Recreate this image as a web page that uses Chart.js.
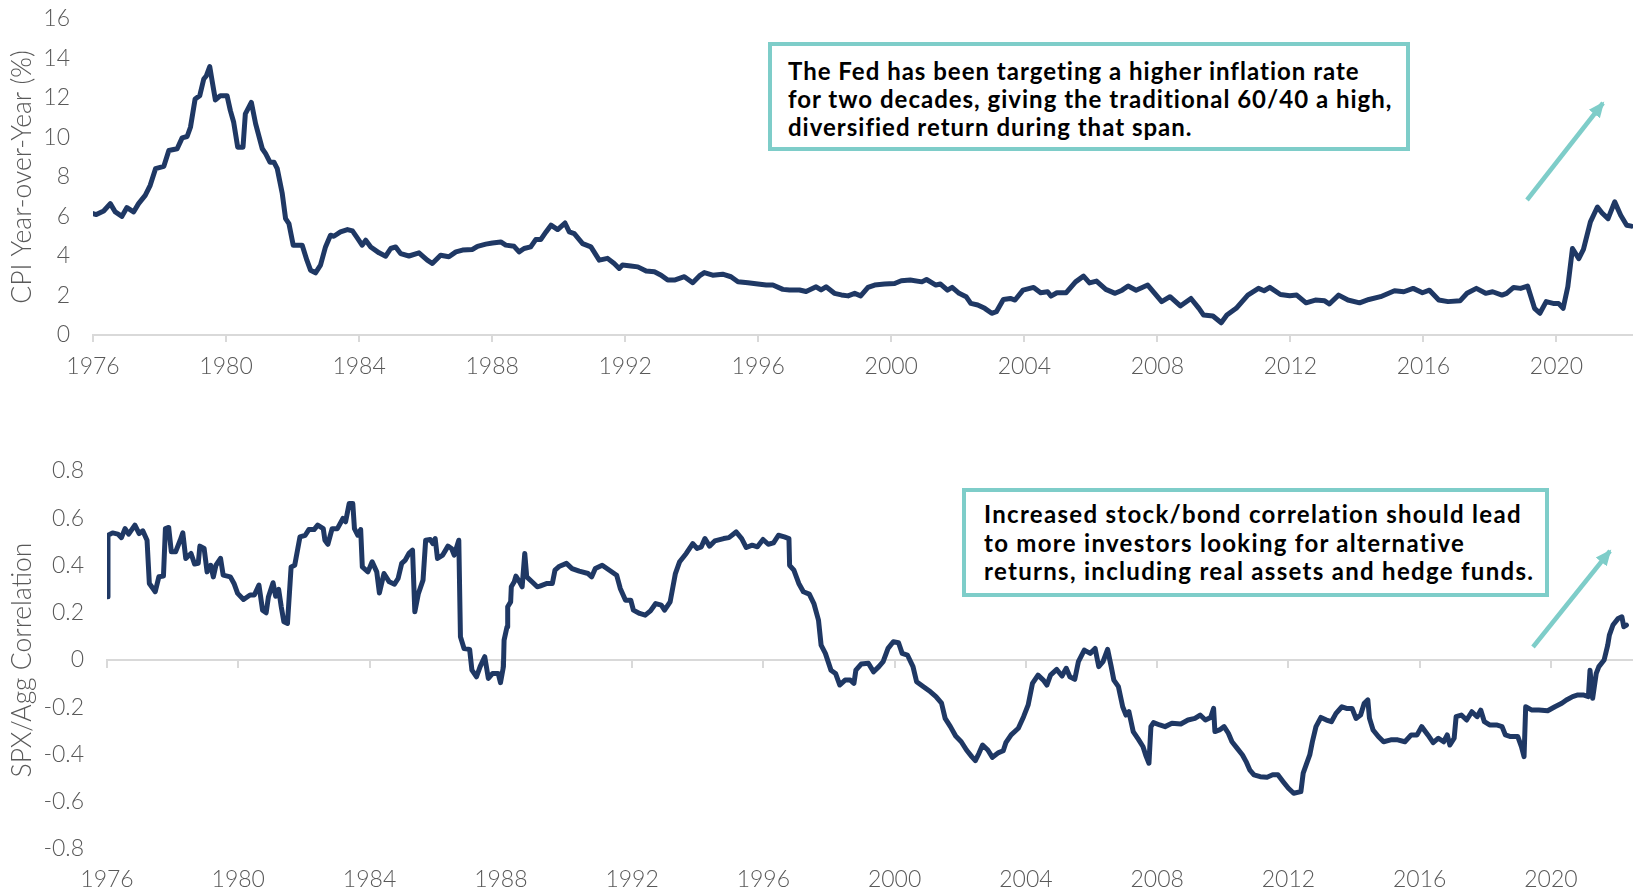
<!DOCTYPE html>
<html>
<head>
<meta charset="utf-8">
<script src="https://cdn.jsdelivr.net/npm/chart.js@4.4.1/dist/chart.umd.min.js"></script>
<style>
  body { margin: 0; background: #fff; }
  .wrap { position: absolute; left: 0; width: 1633px; }
  #topWrap { top: 0; height: 400px; }
  #botWrap { top: 420px; height: 471px; }
  .note {
    position: absolute; box-sizing: border-box; background: #fff;
    border: 4px solid #7ecdc9; color: #000;
    font-family: Lato, "Open Sans", sans-serif; font-weight: 700;
    white-space: nowrap;
  }
  #note1 { left: 768px; top: 42px; width: 642px; height: 109px; font-size: 24px; letter-spacing: 1px; line-height: 28px; padding: 11px 0 0 16px; }
  #note2 { left: 962px; top: 488px; width: 587px; height: 109px; font-size: 24px; letter-spacing: 1.3px; line-height: 28.6px; padding: 8px 0 0 18px; }
  svg { position: absolute; left: 0; top: 0; pointer-events: none; }
</style>
</head>
<body>
<div class="wrap" id="topWrap"><canvas id="cpiChart"></canvas></div>
<div class="wrap" id="botWrap"><canvas id="corrChart"></canvas></div>

<div class="note" id="note1">The Fed has been targeting a higher inflation rate<br>for two decades, giving the traditional 60/40 a high,<br>diversified return during that span.</div>
<div class="note" id="note2">Increased stock/bond correlation should lead<br>to more investors looking for alternative<br>returns, including real assets and hedge funds.</div>

<svg width="1633" height="891">
  <defs>
    <marker id="head" markerUnits="userSpaceOnUse" markerWidth="18" markerHeight="18" refX="14" refY="9" orient="auto">
      <path d="M0,2 L16,9 L0,16 Z" fill="#7ecdc9"/>
    </marker>
  </defs>
  <line x1="1527" y1="200" x2="1603" y2="103" stroke="#7ecdc9" stroke-width="4.5" marker-end="url(#head)"/>
  <line x1="1533" y1="647" x2="1610" y2="551" stroke="#7ecdc9" stroke-width="4.5" marker-end="url(#head)"/>
</svg>

<script>
// CPI year-over-year (%)
const cpiYears = [
  1976.0, 1976.1, 1976.32, 1976.52, 1976.67, 1976.87, 1977.02, 1977.22, 1977.37, 1977.57, 1977.72, 1977.88,
  1978.13, 1978.28, 1978.53, 1978.68, 1978.83, 1978.93, 1979.07, 1979.21, 1979.33, 1979.41, 1979.51, 1979.58,
  1979.68, 1979.83, 1980.03, 1980.13, 1980.23, 1980.35, 1980.51, 1980.58, 1980.76, 1980.89, 1981.09, 1981.19,
  1981.32, 1981.44, 1981.54, 1981.69, 1981.79, 1981.89, 1982.02, 1982.29, 1982.43, 1982.54, 1982.69, 1982.84,
  1982.99, 1983.14, 1983.24, 1983.44, 1983.65, 1983.8, 1983.94, 1984.09, 1984.2, 1984.35, 1984.6, 1984.8,
  1984.95, 1985.1, 1985.25, 1985.5, 1985.8, 1986.05, 1986.2, 1986.45, 1986.7, 1986.91, 1987.11, 1987.41,
  1987.56, 1987.81, 1988.01, 1988.26, 1988.41, 1988.66, 1988.81, 1988.96, 1989.16, 1989.31, 1989.46, 1989.62,
  1989.77, 1989.97, 1990.19, 1990.32, 1990.47, 1990.72, 1990.97, 1991.22, 1991.47, 1991.67, 1991.82, 1991.92,
  1992.17, 1992.38, 1992.63, 1992.88, 1993.08, 1993.28, 1993.48, 1993.78, 1994.03, 1994.23, 1994.38, 1994.63,
  1994.93, 1995.18, 1995.39, 1995.69, 1995.99, 1996.24, 1996.44, 1996.74, 1996.94, 1997.24, 1997.44, 1997.74,
  1997.89, 1998.04, 1998.29, 1998.5, 1998.7, 1998.9, 1999.08, 1999.3, 1999.5, 1999.8, 2000.1, 2000.3,
  2000.57, 2000.92, 2001.06, 2001.34, 2001.48, 2001.69, 2001.83, 2002.04, 2002.25, 2002.39, 2002.6, 2002.81,
  2003.02, 2003.16, 2003.37, 2003.58, 2003.72, 2003.96, 2004.28, 2004.49, 2004.7, 2004.8, 2004.98, 2005.26,
  2005.54, 2005.78, 2005.96, 2006.17, 2006.45, 2006.73, 2006.94, 2007.12, 2007.36, 2007.71, 2007.92, 2008.13,
  2008.38, 2008.69, 2009.01, 2009.25, 2009.39, 2009.67, 2009.92, 2010.09, 2010.37, 2010.72, 2011.04, 2011.21,
  2011.38, 2011.7, 2011.98, 2012.19, 2012.47, 2012.75, 2013.03, 2013.17, 2013.45, 2013.73, 2014.08, 2014.36,
  2014.71, 2015.13, 2015.41, 2015.69, 2015.97, 2016.18, 2016.46, 2016.74, 2017.1, 2017.31, 2017.59, 2017.87,
  2018.08, 2018.36, 2018.5, 2018.71, 2018.92, 2019.13, 2019.34, 2019.5, 2019.69, 2019.9, 2020.06, 2020.2,
  2020.34, 2020.48, 2020.67, 2020.81, 2021.02, 2021.23, 2021.37, 2021.55, 2021.75, 2021.93, 2022.11, 2022.25
];
const cpiValues = [
  6.15, 6.1, 6.28, 6.65, 6.23, 6.01, 6.45, 6.23, 6.65, 7.07, 7.58, 8.42,
  8.54, 9.34, 9.43, 9.98, 10.05, 10.52, 11.95, 12.12, 12.96, 13.13, 13.59, 12.88,
  11.9, 12.12, 12.12, 11.36, 10.77, 9.51, 9.51, 11.2, 11.78, 10.69, 9.43, 9.18,
  8.75, 8.75, 8.42, 7.16, 5.89, 5.64, 4.55, 4.55, 3.79, 3.28, 3.15, 3.54,
  4.46, 5.05, 5.0, 5.22, 5.34, 5.27, 4.93, 4.55, 4.8, 4.46, 4.16, 3.99,
  4.38, 4.46, 4.12, 4.0, 4.16, 3.79, 3.62, 4.04, 3.96, 4.21, 4.3, 4.33,
  4.49, 4.6, 4.66, 4.71, 4.55, 4.49, 4.21, 4.38, 4.46, 4.83, 4.83, 5.22,
  5.56, 5.34, 5.67, 5.22, 5.13, 4.63, 4.46, 3.79, 3.88, 3.62, 3.37, 3.54,
  3.49, 3.45, 3.24, 3.2, 3.03, 2.78, 2.78, 2.95, 2.65, 2.99, 3.16, 3.03,
  3.08, 2.95, 2.7, 2.65, 2.58, 2.53, 2.53, 2.31, 2.28, 2.28, 2.2, 2.44,
  2.28, 2.44, 2.11, 2.03, 1.98, 2.11, 1.98, 2.41, 2.53, 2.58, 2.61, 2.75,
  2.78, 2.69, 2.81, 2.53, 2.58, 2.27, 2.41, 2.11, 1.94, 1.6, 1.52, 1.35,
  1.1, 1.18, 1.8, 1.85, 1.77, 2.27, 2.41, 2.14, 2.19, 1.97, 2.14, 2.14,
  2.69, 2.98, 2.64, 2.73, 2.31, 2.11, 2.27, 2.48, 2.27, 2.53, 2.11, 1.69,
  1.94, 1.47, 1.85, 1.35, 1.01, 0.96, 0.62, 1.01, 1.35, 2.02, 2.36, 2.24,
  2.41, 2.05, 1.99, 2.02, 1.63, 1.77, 1.73, 1.57, 2.02, 1.77, 1.63, 1.8,
  1.94, 2.24, 2.19, 2.36, 2.14, 2.27, 1.77, 1.69, 1.73, 2.11, 2.36, 2.11,
  2.19, 2.02, 2.11, 2.41, 2.36, 2.48, 1.35, 1.1, 1.69, 1.6, 1.6, 1.35,
  2.44, 4.38, 3.87, 4.33, 5.73, 6.48, 6.18, 5.89, 6.74, 6.06, 5.56, 5.51
];

// SPX / Agg correlation
const corrYears = [
  1976.0, 1976.03, 1976.17, 1976.33, 1976.44, 1976.55, 1976.66, 1976.85, 1976.98, 1977.09, 1977.22, 1977.29,
  1977.4, 1977.47, 1977.58, 1977.72, 1977.78, 1977.88, 1977.96, 1978.09, 1978.23, 1978.31, 1978.4, 1978.56,
  1978.67, 1978.78, 1978.83, 1978.96, 1979.05, 1979.16, 1979.24, 1979.32, 1979.46, 1979.54, 1979.76, 1979.87,
  1979.98, 1980.16, 1980.36, 1980.49, 1980.63, 1980.74, 1980.85, 1980.92, 1981.06, 1981.14, 1981.23, 1981.31,
  1981.39, 1981.5, 1981.61, 1981.72, 1981.88, 1982.04, 1982.15, 1982.31, 1982.42, 1982.59, 1982.64, 1982.73,
  1982.86, 1983.02, 1983.19, 1983.27, 1983.38, 1983.49, 1983.54, 1983.64, 1983.73, 1983.78, 1983.95, 1984.08,
  1984.22, 1984.3, 1984.44, 1984.6, 1984.76, 1984.87, 1984.98, 1985.09, 1985.2, 1985.31, 1985.38, 1985.49,
  1985.63, 1985.71, 1985.85, 1985.93, 1986.0, 1986.07, 1986.23, 1986.39, 1986.5, 1986.58, 1986.72, 1986.77,
  1986.88, 1987.05, 1987.12, 1987.26, 1987.37, 1987.51, 1987.62, 1987.75, 1987.92, 1987.99, 1988.08, 1988.1,
  1988.19, 1988.21, 1988.3, 1988.32, 1988.41, 1988.46, 1988.57, 1988.65, 1988.73, 1988.79, 1988.95, 1989.11,
  1989.19, 1989.41, 1989.57, 1989.65, 1989.79, 1990.0, 1990.17, 1990.39, 1990.66, 1990.77, 1990.88, 1991.09,
  1991.31, 1991.53, 1991.64, 1991.8, 1991.96, 1992.04, 1992.23, 1992.4, 1992.56, 1992.72, 1992.89, 1992.99,
  1993.16, 1993.32, 1993.45, 1993.65, 1993.85, 1993.98, 1994.11, 1994.22, 1994.36, 1994.52, 1994.79, 1994.95,
  1995.17, 1995.34, 1995.48, 1995.66, 1995.82, 1995.99, 1996.15, 1996.31, 1996.46, 1996.64, 1996.78, 1996.8,
  1996.93, 1997.08, 1997.22, 1997.4, 1997.54, 1997.68, 1997.76, 1997.89, 1998.06, 1998.2, 1998.33, 1998.49,
  1998.65, 1998.76, 1998.82, 1998.98, 1999.2, 1999.36, 1999.52, 1999.65, 1999.8, 1999.96, 2000.12, 2000.23,
  2000.39, 2000.56, 2000.67, 2000.88, 2001.05, 2001.26, 2001.43, 2001.54, 2001.7, 2001.86, 2002.03, 2002.19,
  2002.35, 2002.46, 2002.57, 2002.68, 2002.84, 2002.98, 2003.17, 2003.31, 2003.39, 2003.55, 2003.77, 2003.93,
  2004.07, 2004.2, 2004.37, 2004.53, 2004.64, 2004.75, 2004.94, 2005.1, 2005.23, 2005.34, 2005.49, 2005.6,
  2005.78, 2005.96, 2006.11, 2006.22, 2006.35, 2006.49, 2006.6, 2006.68, 2006.82, 2006.95, 2007.05, 2007.14,
  2007.27, 2007.43, 2007.57, 2007.65, 2007.75, 2007.81, 2007.89, 2008.08, 2008.24, 2008.45, 2008.72, 2008.94,
  2009.15, 2009.31, 2009.47, 2009.63, 2009.72, 2009.76, 2009.9, 2010.04, 2010.17, 2010.28, 2010.44, 2010.6,
  2010.71, 2010.82, 2010.95, 2011.14, 2011.35, 2011.52, 2011.68, 2011.84, 2012.0, 2012.16, 2012.38, 2012.45,
  2012.54, 2012.65, 2012.73, 2012.84, 2012.99, 2013.16, 2013.31, 2013.45, 2013.63, 2013.77, 2013.94, 2014.06,
  2014.2, 2014.31, 2014.42, 2014.47, 2014.58, 2014.74, 2014.9, 2015.12, 2015.33, 2015.55, 2015.74, 2015.92,
  2016.06, 2016.25, 2016.41, 2016.57, 2016.73, 2016.84, 2016.92, 2017.05, 2017.11, 2017.27, 2017.43, 2017.59,
  2017.75, 2017.86, 2017.97, 2018.13, 2018.34, 2018.51, 2018.61, 2018.77, 2018.99, 2019.1, 2019.18, 2019.23,
  2019.42, 2019.63, 2019.9, 2020.12, 2020.33, 2020.47, 2020.66, 2020.82, 2020.98, 2021.14, 2021.19, 2021.27,
  2021.38, 2021.46, 2021.62, 2021.73, 2021.78, 2021.89, 2022.05, 2022.16, 2022.22, 2022.3
];
const corrValues = [
  0.268, 0.528, 0.538, 0.533, 0.518, 0.556, 0.533, 0.571, 0.535, 0.547, 0.507, 0.324,
  0.303, 0.289, 0.352, 0.355, 0.556, 0.561, 0.458, 0.458, 0.507, 0.538, 0.43, 0.451,
  0.406, 0.409, 0.482, 0.472, 0.373, 0.401, 0.352, 0.401, 0.43, 0.359, 0.352, 0.324,
  0.282, 0.256, 0.275, 0.275, 0.317, 0.211, 0.2, 0.268, 0.327, 0.27, 0.299, 0.225,
  0.162, 0.155, 0.394, 0.401, 0.521, 0.528, 0.552, 0.552, 0.571, 0.556, 0.507, 0.49,
  0.556, 0.556, 0.599, 0.585, 0.662, 0.662, 0.556, 0.528, 0.552, 0.394, 0.373, 0.416,
  0.373, 0.284, 0.366, 0.331, 0.321, 0.345, 0.409, 0.423, 0.451, 0.465, 0.204, 0.282,
  0.338, 0.507, 0.51, 0.493, 0.514, 0.43, 0.444, 0.482, 0.472, 0.444, 0.507, 0.098,
  0.049, 0.045, -0.043, -0.071, -0.028, 0.014, -0.078, -0.057, -0.057, -0.096, -0.028, 0.084,
  0.141, 0.225, 0.246, 0.31, 0.331, 0.355, 0.331, 0.31, 0.451, 0.352, 0.331, 0.31,
  0.313, 0.324, 0.324, 0.38, 0.397, 0.409, 0.387, 0.376, 0.366, 0.352, 0.387, 0.401,
  0.38, 0.359, 0.303, 0.253, 0.253, 0.211, 0.197, 0.19, 0.208, 0.239, 0.232, 0.211,
  0.246, 0.366, 0.416, 0.451, 0.493, 0.472, 0.479, 0.514, 0.482, 0.504, 0.514, 0.518,
  0.542, 0.514, 0.476, 0.486, 0.479, 0.51, 0.49, 0.496, 0.528, 0.521, 0.514, 0.401,
  0.38, 0.324, 0.289, 0.279, 0.239, 0.169, 0.063, 0.028, -0.043, -0.057, -0.106, -0.085,
  -0.085, -0.099, -0.043, -0.017, -0.014, -0.05, -0.028, -0.007, 0.049, 0.077, 0.073, 0.028,
  0.021, -0.028, -0.092, -0.113, -0.13, -0.155, -0.183, -0.247, -0.282, -0.322, -0.346, -0.381,
  -0.409, -0.426, -0.395, -0.36, -0.381, -0.412, -0.392, -0.384, -0.35, -0.317, -0.289, -0.24,
  -0.19, -0.099, -0.064, -0.085, -0.106, -0.064, -0.04, -0.068, -0.035, -0.071, -0.082, -0.007,
  0.042, 0.028, 0.049, -0.028, -0.007, 0.045, -0.028, -0.085, -0.113, -0.198, -0.233, -0.219,
  -0.303, -0.336, -0.367, -0.402, -0.437, -0.282, -0.265, -0.275, -0.282, -0.268, -0.271, -0.254,
  -0.247, -0.233, -0.254, -0.243, -0.205, -0.303, -0.296, -0.282, -0.31, -0.346, -0.374, -0.402,
  -0.43, -0.465, -0.486, -0.494, -0.496, -0.486, -0.486, -0.515, -0.543, -0.564, -0.557, -0.479,
  -0.444, -0.402, -0.346, -0.282, -0.243, -0.254, -0.261, -0.226, -0.198, -0.205, -0.205, -0.247,
  -0.233, -0.183, -0.169, -0.247, -0.296, -0.324, -0.346, -0.338, -0.338, -0.346, -0.317, -0.317,
  -0.282, -0.317, -0.35, -0.331, -0.346, -0.317, -0.36, -0.331, -0.24, -0.233, -0.254, -0.219,
  -0.24, -0.212, -0.261, -0.275, -0.275, -0.282, -0.317, -0.324, -0.324, -0.367, -0.409, -0.198,
  -0.212, -0.212, -0.215, -0.198, -0.183, -0.169, -0.155, -0.148, -0.148, -0.155, -0.043, -0.162,
  -0.057, -0.028, 0.0, 0.063, 0.105, 0.148, 0.176, 0.183, 0.141, 0.148
];

const cpiTicks = { min: 0, max: 16, step: 2 };
const corrTicks = { min: -0.8, max: 0.8, step: 0.2 };
const yearTickStep = 4;

const NAVY = '#1f3864';
const GREY_TEXT = '#595959';
const GREY_LINE = '#d9d9d9';
const tickFont = { family: 'Lato, "Open Sans", sans-serif', size: 23, weight: 300 };
const titleFont = { family: 'Lato, "Open Sans", sans-serif', size: 26.5, weight: 300 };

function toPoints(xs, ys) {
  return xs.map((x, i) => ({ x: x, y: ys[i] }));
}

function lineDataset(points) {
  return {
    data: points,
    borderColor: NAVY,
    borderWidth: 5,
    pointRadius: 0,
    tension: 0,
    borderJoinStyle: 'round',
    borderCapStyle: 'round',
    xAxisID: 'x',
  };
}

const yearLabel = (v) => String(v);

// y axes: fixed width, and no extra top/bottom room for the tick labels
function yAxisFit(width) {
  return (s) => {
    s.width = width;
    s.paddingTop = 0;
    s.paddingBottom = 0;
  };
}

// top panel: CPI
new Chart(document.getElementById('cpiChart'), {
  type: 'line',
  data: { datasets: [lineDataset(toPoints(cpiYears, cpiValues))] },
  options: {
    responsive: true,
    maintainAspectRatio: false,
    animation: false,
    layout: { padding: { top: 19, left: 0, right: 0, bottom: 0 } },
    plugins: { legend: { display: false }, tooltip: { enabled: false } },
    scales: {
      x: {
        type: 'linear',
        min: 1976, max: 2022.3,
        afterFit: (s) => { s.height = 65; },
        border: { display: true, color: GREY_LINE, width: 2 },
        grid: { display: true, drawOnChartArea: false, drawTicks: true, tickLength: 7, color: GREY_LINE, lineWidth: 2 },
        ticks: { stepSize: yearTickStep, includeBounds: false, color: GREY_TEXT, font: tickFont, padding: 11, maxRotation: 0, autoSkip: false, callback: yearLabel },
      },
      y: {
        min: cpiTicks.min, max: cpiTicks.max,
        afterFit: yAxisFit(93),
        border: { display: false },
        grid: { display: false, drawTicks: false },
        ticks: { stepSize: cpiTicks.step, color: GREY_TEXT, font: tickFont, padding: 23 },
        title: { display: true, text: 'CPI Year-over-Year (%)', color: GREY_TEXT, font: titleFont, padding: { top: 7, bottom: 0 } },
      },
    },
  },
});

// bottom panel: stock/bond correlation
new Chart(document.getElementById('corrChart'), {
  type: 'line',
  data: { datasets: [lineDataset(toPoints(corrYears, corrValues))] },
  options: {
    responsive: true,
    maintainAspectRatio: false,
    animation: false,
    layout: { padding: { top: 51, left: 0, right: 0, bottom: 0 } },
    plugins: { legend: { display: false }, tooltip: { enabled: false } },
    scales: {
      x: {
        type: 'linear',
        min: 1976, max: 2022.5,
        afterFit: (s) => { s.height = 42; },
        border: { display: false },
        grid: { display: false, drawTicks: false },
        ticks: { stepSize: yearTickStep, includeBounds: false, color: GREY_TEXT, font: tickFont, padding: 17, maxRotation: 0, autoSkip: false, callback: yearLabel },
      },
      // zero line with the year tick marks hanging from it
      xZero: {
        type: 'linear',
        axis: 'x',
        position: { y: 0 },
        min: 1976, max: 2022.5,
        border: { display: true, color: GREY_LINE, width: 2 },
        grid: { display: true, drawOnChartArea: false, drawTicks: true, tickLength: 7, color: GREY_LINE, lineWidth: 2 },
        ticks: { display: false, stepSize: yearTickStep, includeBounds: false, autoSkip: false },
      },
      y: {
        min: corrTicks.min, max: corrTicks.max,
        afterFit: yAxisFit(107),
        border: { display: false },
        grid: { display: false, drawTicks: false },
        ticks: { stepSize: corrTicks.step, color: GREY_TEXT, font: tickFont, padding: 23, callback: (v) => String(Math.round(v * 10) / 10) },
        title: { display: true, text: 'SPX/Agg Correlation', color: GREY_TEXT, font: titleFont, padding: { top: 7, bottom: 0 } },
      },
    },
  },
});
</script>
</body>
</html>
